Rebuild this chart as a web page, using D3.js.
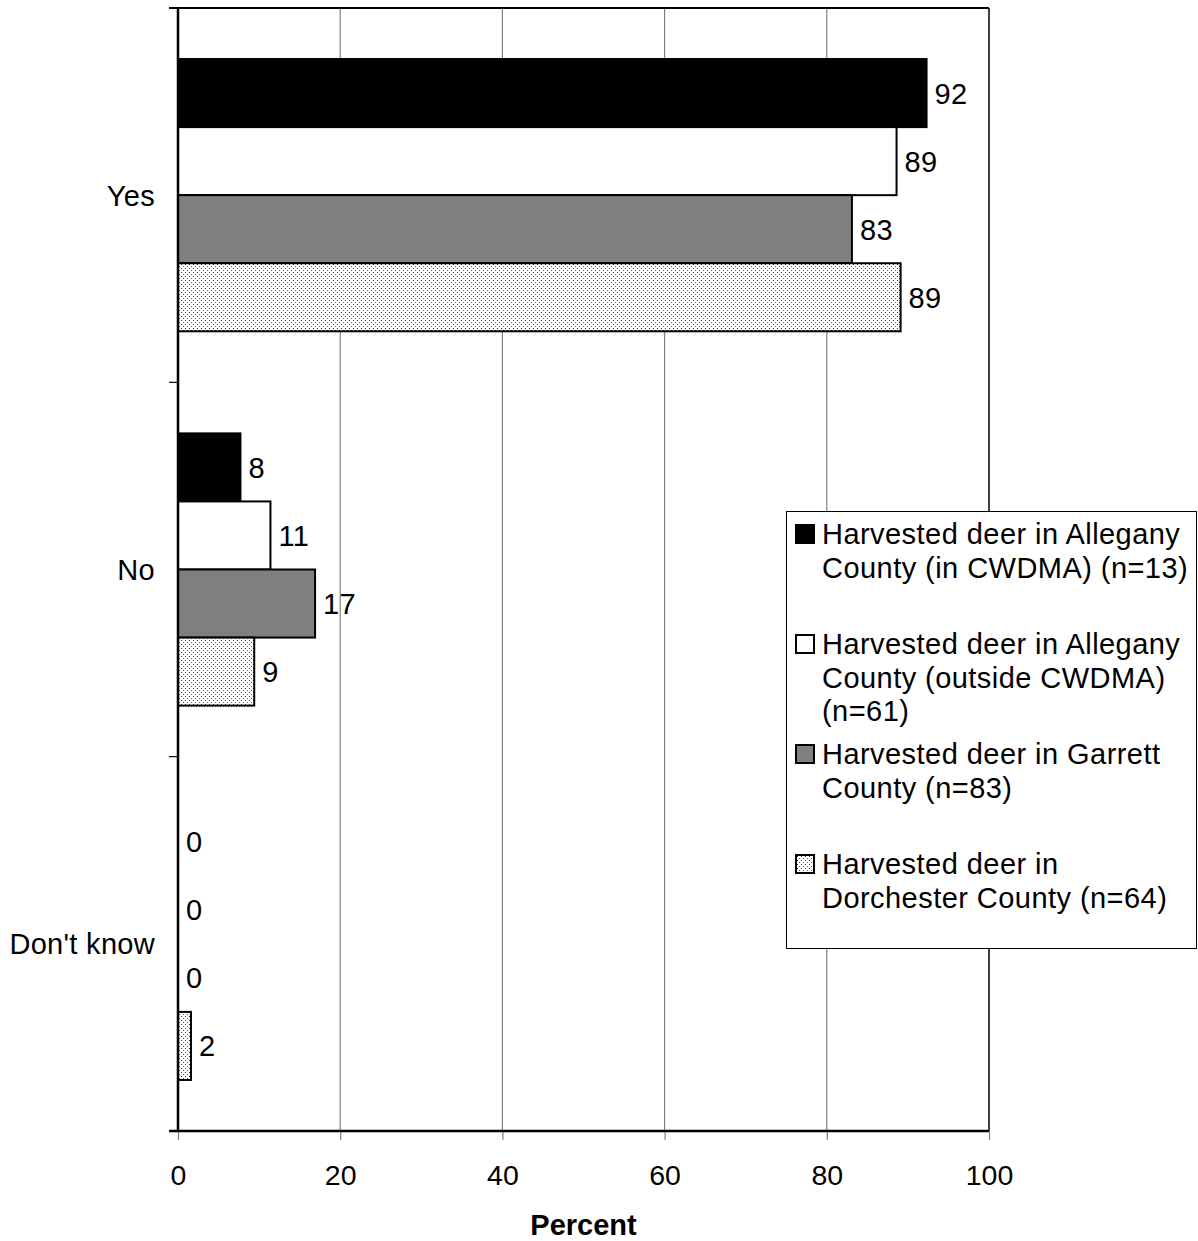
<!DOCTYPE html>
<html><head><meta charset="utf-8">
<script src="https://cdn.jsdelivr.net/npm/d3@7"></script>
<style>body{margin:0;background:#fff}svg{display:block;font-family:"Liberation Sans",Arial,sans-serif}</style>
</head><body><svg id="c" width="1198" height="1241"></svg>
<script>
const categories = ["Yes", "No", "Don't know"];
const seriesNames = [
  ["Harvested deer in Allegany", "County (in CWDMA) (n=13)"],
  ["Harvested deer in Allegany", "County (outside CWDMA)", "(n=61)"],
  ["Harvested deer in Garrett", "County (n=83)"],
  ["Harvested deer in", "Dorchester County (n=64)"]
];
const allegInCWDMA = [92.3, 7.7, 0];
const allegOutCWDMA = [88.6, 11.4, 0];
const garrett = [83.1, 16.9, 0];
const dorchester = [89.1, 9.4, 1.6];
const xTicks = [0, 20, 40, 60, 80, 100];

const series = [allegInCWDMA, allegOutCWDMA, garrett, dorchester];
const fills = ["#000", "#fff", "#808080", "url(#dots)"];
const FS = 29;

const svg = d3.select("#c");
const defs = svg.append("defs");
const pat = defs.append("pattern").attr("id","dots").attr("patternUnits","userSpaceOnUse")
  .attr("width",4).attr("height",4);
pat.append("rect").attr("width",4).attr("height",4).attr("fill","#fff");
pat.append("rect").attr("x",1).attr("y",0).attr("width",1).attr("height",1).attr("fill","#333");
pat.append("rect").attr("x",3).attr("y",2).attr("width",1).attr("height",1).attr("fill","#555");

const L = 178, R = 989, T = 8, B = 1131;
const x = d3.scaleLinear().domain([0,100]).range([L,R]);
const y = d3.scaleBand().domain(categories).range([T,B]).padding(0);
const ys = d3.scaleBand().domain(d3.range(4)).range([0,y.bandwidth()]).paddingInner(0).paddingOuter(0.75);

// gridlines
svg.append("g").selectAll("line").data(xTicks.filter(d=>d>0 && d<100)).join("line")
  .attr("x1",d=>x(d)).attr("x2",d=>x(d)).attr("y1",T).attr("y2",B)
  .attr("stroke","#808080").attr("stroke-width",1.2);
// right & top border
svg.append("line").attr("x1",x(100)).attr("x2",x(100)).attr("y1",T).attr("y2",B).attr("stroke","#000").attr("stroke-width",1.5);
svg.append("line").attr("x1",L-9).attr("x2",R).attr("y1",T).attr("y2",T).attr("stroke","#000").attr("stroke-width",2);

// bars
const gBars = svg.append("g");
categories.forEach((c,ci)=>{
  series.forEach((s,si)=>{
    const v = s[ci];
    const y0 = y(c)+ys(si);
    if (v>0) {
      gBars.append("rect").attr("x",x(0)).attr("y",y0).attr("width",x(v)-x(0)).attr("height",ys.bandwidth())
        .attr("fill",fills[si]).attr("stroke","#000").attr("stroke-width",2);
    }
    gBars.append("text").attr("x",x(v)+8).attr("y",y0+ys.bandwidth()/2).attr("dy","0.36em")
      .attr("font-size",FS).attr("letter-spacing",0.4).text(d3.format(".0f")(v));
  });
});

// x axis
const xAxis = d3.axisBottom(x).tickValues(xTicks).tickSize(9).tickPadding(25).tickFormat(d3.format("d"));
const gx = svg.append("g").attr("transform",`translate(0,${B})`).call(xAxis);
gx.select(".domain").remove();
gx.selectAll(".tick line").attr("stroke","#808080").attr("stroke-width",1.2);
gx.selectAll("text").attr("font-size",28.5).attr("font-family","Liberation Sans, Arial, sans-serif").attr("fill","#000");
svg.append("line").attr("x1",L-9).attr("x2",R).attr("y1",B).attr("y2",B).attr("stroke","#000").attr("stroke-width",2.5);

// y axis
svg.append("line").attr("x1",L).attr("x2",L).attr("y1",T).attr("y2",B).attr("stroke","#000").attr("stroke-width",2.5);
const yEdges = categories.map(c=>y(c)).concat([B]);
svg.append("g").selectAll("line").data(yEdges).join("line")
  .attr("x1",L-9).attr("x2",L).attr("y1",d=>d).attr("y2",d=>d).attr("stroke","#000").attr("stroke-width",1.2);
svg.append("g").selectAll("text").data(categories).join("text")
  .attr("x",155).attr("y",d=>y(d)+y.bandwidth()/2).attr("dy","0.36em").attr("text-anchor","end")
  .attr("font-size",FS).attr("letter-spacing",0.3).text(d=>d);

// x title
svg.append("text").attr("x",(L+R)/2).attr("y",1235).attr("text-anchor","middle")
  .attr("font-size",FS).attr("font-weight","bold").text("Percent");

// legend
const lg = svg.append("g");
lg.append("rect").attr("x",786.5).attr("y",511.5).attr("width",410).attr("height",437)
  .attr("fill","#fff").attr("stroke","#000").attr("stroke-width",1);
const itemTops = [534, 644, 754, 864];
seriesNames.forEach((lines,i)=>{
  const t = itemTops[i];
  lg.append("rect").attr("x",796).attr("y",t-9).attr("width",18).attr("height",18)
    .attr("fill",fills[i]).attr("stroke","#000").attr("stroke-width",2);
  lines.forEach((ln,j)=>{
    lg.append("text").attr("x",822).attr("y",t+j*33.5).attr("dy","0.36em").attr("font-size",FS)
      .attr("letter-spacing",0.45).text(ln);
  });
});
</script></body></html>
